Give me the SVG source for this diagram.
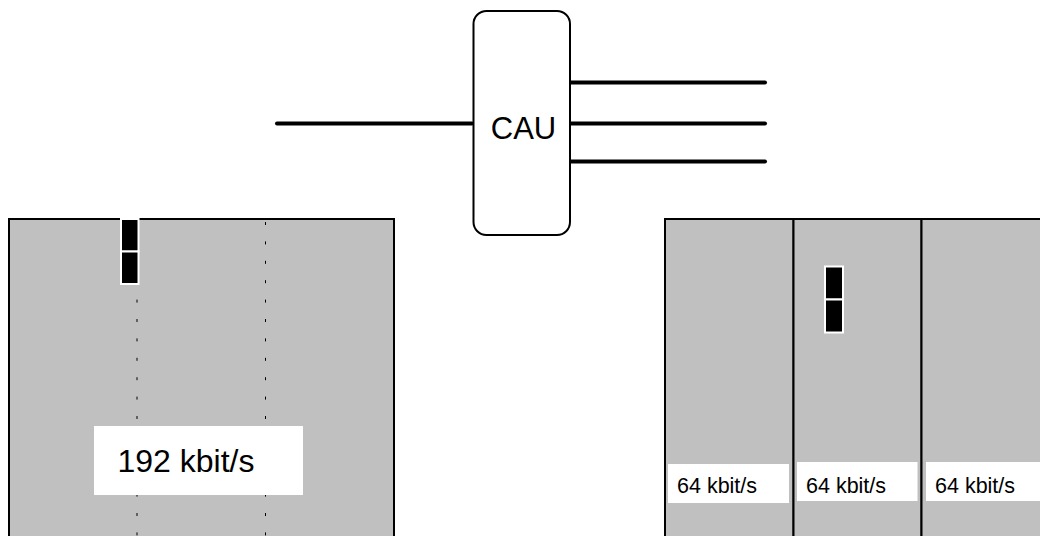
<svg xmlns="http://www.w3.org/2000/svg" width="1040" height="536" viewBox="0 0 1040 536">
<style>
.panel{fill:#c0c0c0;stroke:#000;stroke-width:2}
.blk{fill:#000;stroke:#fff;stroke-width:2}
.lbl{fill:#fff;stroke:none}
.dash{stroke:#000;stroke-width:1;stroke-dasharray:3 16.4;fill:none}
.wire{stroke:#000;stroke-width:4;stroke-linecap:round;fill:none}
text{font-family:"Liberation Sans",Arial,sans-serif;fill:#000}
</style>
<rect width="1040" height="536" fill="#fff"/>
<g id="left-channel">
<rect class="panel" x="9" y="219" width="385" height="330"/>
<line class="dash" x1="137" y1="220" x2="137" y2="536" stroke-dashoffset="-2"/>
<line class="dash" x1="265.5" y1="220" x2="265.5" y2="536" stroke-dashoffset="-2"/>
<rect class="blk" x="121" y="219" width="17.5" height="32.5"/>
<rect class="blk" x="121" y="251.5" width="17.5" height="32.5"/>
<rect class="lbl" x="94" y="426" width="209" height="69"/>
<text x="117.5" y="472" font-size="32" textLength="137">192 kbit/s</text>
</g>
<g id="right-channels">
<rect class="panel" x="665" y="219" width="128.5" height="330"/>
<rect class="panel" x="793.5" y="219" width="128" height="330"/>
<rect class="panel" x="921.5" y="219" width="130" height="330"/>
<rect class="blk" x="825" y="266.5" width="18" height="33"/>
<rect class="blk" x="825" y="299.5" width="18" height="33"/>
<rect class="lbl" x="668" y="464" width="121" height="39"/>
<rect class="lbl" x="797" y="462" width="120.5" height="39"/>
<rect class="lbl" x="926" y="462" width="120" height="39"/>
<text x="677" y="493" font-size="21.5">64 kbit/s</text>
<text x="806" y="492.5" font-size="21.5">64 kbit/s</text>
<text x="935" y="492.5" font-size="21.5">64 kbit/s</text>
</g>
<g id="connectors">
<line class="wire" x1="277" y1="123.5" x2="472" y2="123.5"/>
<line class="wire" x1="571" y1="82.5" x2="765" y2="82.5"/>
<line class="wire" x1="571" y1="123.5" x2="765" y2="123.5"/>
<line class="wire" x1="571" y1="161.5" x2="765" y2="161.5"/>
</g>
<g id="cau">
<rect x="473.5" y="11" width="96.5" height="224" rx="13" ry="13" fill="#fff" stroke="#000" stroke-width="2"/>
<text x="523.5" y="138.5" font-size="31" text-anchor="middle">CAU</text>
</g>
</svg>
